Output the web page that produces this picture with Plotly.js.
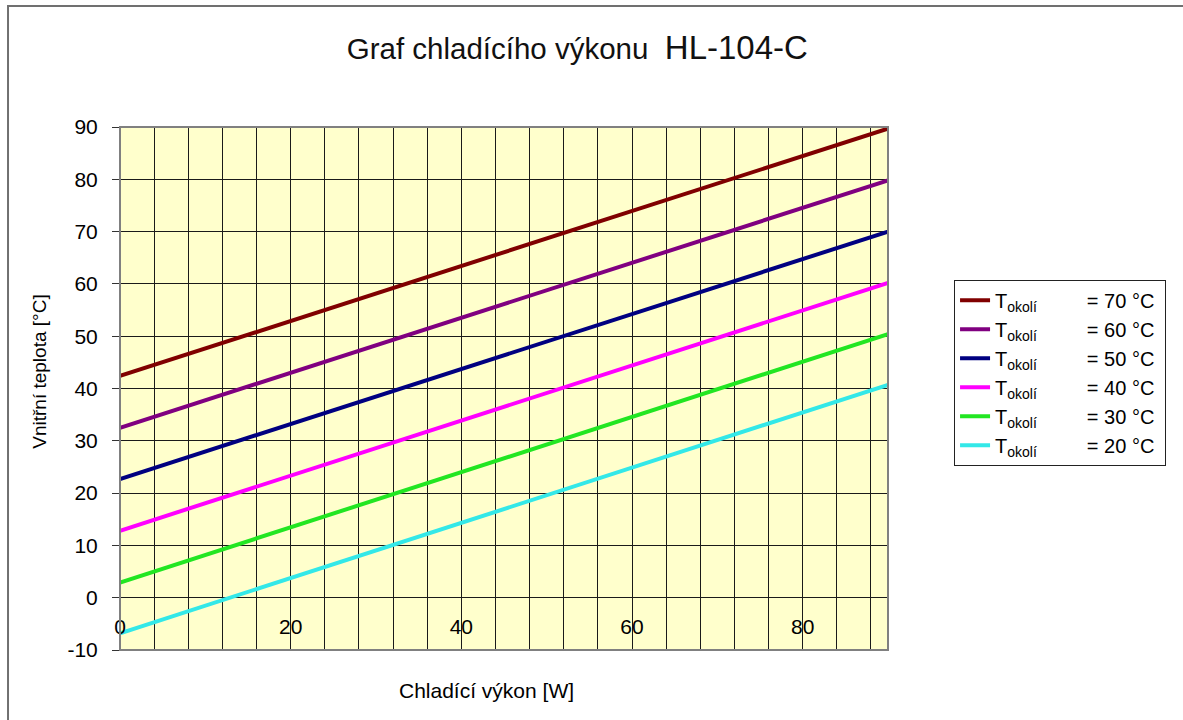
<!DOCTYPE html>
<html>
<head>
<meta charset="utf-8">
<script src="https://cdn.plot.ly/plotly-3.0.1.min.js"></script>
<style>html,body{margin:0;padding:0;background:#fff;}</style>
</head>
<body>
<div id="chart" style="width:1183px;height:720px;"></div>
<script>
// Data
const power = [0, 90];               // Chladící výkon [W]
const t70 = [42.4, 89.7];
const t60 = [32.5, 79.8];
const t50 = [22.7, 70.0];
const t40 = [12.8, 60.2];
const t30 = [2.9, 50.4];
const t20 = [-6.8, 40.7];
const seriesNames = ['70', '60', '50', '40', '30', '20'];
const seriesValues = [t70, t60, t50, t40, t30, t20];
const seriesColors = ['#800000', '#800080', '#000080', '#FF00FF', '#22E622', '#33E8E8'];
const xTickVals = [0, 20, 40, 60, 80];
const yTickVals = [-10, 0, 10, 20, 30, 40, 50, 60, 70, 80, 90];
const yTickText = ['-10', '0', '10', '20', '30', '40', '50', '60', '70', '80', '90'];
const xTitle = 'Chladící výkon [W]';
const yTitle = 'Vnitřní teplota [°C]';

const nb = '\u00a0';
const traces = seriesValues.map((vals, i) => ({
  x: power,
  y: vals,
  type: 'scatter',
  mode: 'lines',
  name: 'T<sub>okolí</sub>' + nb.repeat(9) + '= ' + seriesNames[i] + ' °C' + nb,
  line: {color: seriesColors[i], width: 4},
  hoverinfo: 'x+y'
}));

const layout = {
  width: 1183,
  height: 720,
  paper_bgcolor: '#ffffff',
  plot_bgcolor: '#FFFFCC',
  font: {family: 'Liberation Sans, Arial, sans-serif', color: '#000'},
  margin: {l: 120, r: 295, t: 127, b: 70, autoexpand: false},
  title: {
    text: 'Graf chladícího výkonu' + nb + ' <span style="font-size:33px">HL-104-C</span>',
    font: {size: 29.5, color: '#111'},
    xref: 'container', x: 0.488, xanchor: 'center',
    yref: 'container', y: 0.932, yanchor: 'middle'
  },
  xaxis: {
    range: [0, 90],
    tickvals: xTickVals,
    ticktext: xTickVals.map(String),
    showgrid: true,
    gridcolor: '#1a1a1a',
    gridwidth: 1,
    minor: {dtick: 4, tick0: 0, showgrid: true, gridcolor: '#1a1a1a', gridwidth: 1},
    zeroline: false,
    showline: false,
    ticks: '',
    anchor: 'free',
    position: 0.1,
    ticklabelstandoff: 14,
    tickfont: {size: 21},
    fixedrange: true
  },
  yaxis: {
    domain: [0, 1],
    range: [-10, 90],
    tickvals: yTickVals,
    ticktext: yTickText,
    showgrid: true,
    gridcolor: '#1a1a1a',
    gridwidth: 1,
    zeroline: false,
    showline: false,
    ticks: 'outside',
    ticklen: 7,
    tickcolor: '#333',
    tickwidth: 1,
    ticklabelstandoff: 10,
    tickfont: {size: 21},
    fixedrange: true
  },
  annotations: [
    {text: xTitle, xref: 'paper', yref: 'paper', x: 0.4766, y: -0.0765,
     xanchor: 'center', yanchor: 'middle', showarrow: false, font: {size: 21}},
    {text: yTitle, xref: 'paper', yref: 'paper', x: -0.1042, y: 0.532,
     xanchor: 'center', yanchor: 'middle', showarrow: false, textangle: -90, font: {size: 19}}
  ],
  showlegend: true,
  legend: {
    x: 1.086, xanchor: 'left',
    y: 0.708, yanchor: 'top',
    bgcolor: '#ffffff',
    bordercolor: '#222',
    borderwidth: 1,
    font: {size: 20, color: '#000'},
    tracegroupgap: 0
  },
  shapes: [
    {type: 'rect', xref: 'paper', yref: 'paper', x0: 0, x1: 1, y0: 0, y1: 1,
     line: {color: '#808080', width: 2}, layer: 'above'},
    {type: 'rect', xref: 'paper', yref: 'paper', x0: -0.1458, x1: 1.42, y0: -0.2, y1: 1.2314,
     line: {color: '#707070', width: 2}, layer: 'below'}
  ]
};

Plotly.newPlot('chart', traces, layout, {displayModeBar: false, staticPlot: true});
</script>
</body>
</html>
